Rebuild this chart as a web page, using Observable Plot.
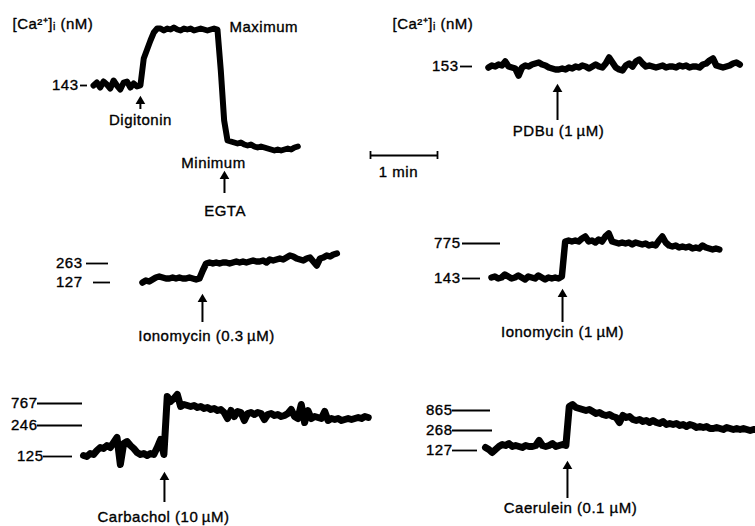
<!DOCTYPE html>
<html><head><meta charset="utf-8">
<script src="https://cdn.jsdelivr.net/npm/d3@7"></script>
<script src="https://cdn.jsdelivr.net/npm/@observablehq/plot@0.6"></script>
<style>
html,body{margin:0;padding:0;background:#fff;}
#fig{position:relative;width:755px;height:526px;overflow:hidden;background:#fff;}
#fig svg{position:absolute;overflow:visible;}
</style></head><body><div id="fig"></div>
<script>
// ---------------- DATA ----------------
// sampling interval of the digitised records (s)
const dt = 3;
// fluorescence signal, arbitrary units (0 = resting level of each record)
const sigDigitonin = [0,3,-2,4,1,-3,5,0,-4,3,4,-2,2,-1,0,
  27,36,45,53,57,
  57,55,57,56,58,56,55,57,56,57,55,56,57,56,55,56,57,56,
  15,-35,-55,
  -56,-57,-58,-57,-59,-60,-59,-61,-62,-61,-62,-63,-64,-65,-64,-65,-64,-63,-64,-62,-61];
const sigPDBu = [-1,1,0,2,1,5,0,-1,-2,-9,-1,1,0,2,3,4,2,1,-1,-2,-3,-3,-2,-3,-1,-2,0,-1,1,0,
  -2,0,2,0,-1,3,9,4,-1,-3,-4,1,3,0,5,7,3,0,1,0,-1,0,1,-1,0,0,-1,1,0,1,
  -1,0,0,-1,2,3,6,8,1,0,-1,0,1,3,4,2];
const sigIono03 = [0,2,1,3,5,6,5,4,4,5,4,5,4,4,5,4,3,4,
  12,19,20,19,20,19,20,20,19,20,21,20,21,20,21,22,21,21,22,20,23,22,23,24,23,25,27,26,24,23,22,24,25,21,17,24,25,27,26,28,29];
const sigIono1 = [1,2,0,1,4,2,0,1,3,1,-1,2,1,0,3,1,-1,1,0,1,0,2,
  37,38,37,38,37,40,42,37,38,36,39,37,42,45,37,36,35,36,35,36,34,36,35,34,35,33,34,33,38,42,36,33,32,33,31,32,31,32,30,31,30,33,31,30,29,30,29];
const sigCarbachol = [1,0,3,2,6,9,8,11,9,14,19,-8,13,15,11,8,4,2,3,1,3,2,9,17,2,
  60,55,58,62,50,52,51,50,51,49,50,48,49,47,48,46,47,44,38,46,40,45,44,36,43,44,42,44,43,37,
  42,43,41,42,40,41,43,47,40,38,52,34,46,38,40,39,38,45,36,38,37,38,36,37,38,37,38,39,38,40,39];
const sigCaerulein = [3,1,-2,1,4,6,5,7,4,5,4,3,5,4,4,5,10,5,4,5,7,4,5,6,5,
  44,46,43,42,41,40,41,39,37,38,36,35,36,34,33,28,35,33,34,31,30,31,29,30,28,30,28,27,29,26,
  27,26,27,25,26,24,26,25,23,24,23,24,22,22,23,22,21,23,22,21,22,21,22,21,20,21,21];

// calibration ticks: signal level -> [Ca2+]i label (nM)
const tickSigA = [0],         tickLabA = ["143"];
const tickSigB = [0],         tickLabB = ["153"];
const tickSigC = [0, 19],     tickLabC = ["127", "263"];
const tickSigD = [0, 35],     tickLabD = ["143", "775"];
const tickSigE = [0, 31, 53], tickLabE = ["125", "246", "767"];
const tickSigF = [0, 20, 40], tickLabF = ["127", "268", "865"];

// times of additions (s from start of record)
const tDigitonin = 42, tEGTA = 117.3, tPDBu = 61.8, tIono03 = 53.7, tIono1 = 63.6, tCarbachol = 72.5, tCaerulein = 73.4;
const yTitle = "[Ca\u00B2\u207A]\u1D62 (nM)";

// ---------------- LAYOUT ----------------
const pps = 67 / 60; // px per second: the 1-min bar
const font = "'Liberation Sans', Arial, Helvetica, sans-serif";
const fig = document.getElementById("fig");
const series = vals => vals.map((s, i) => ({t: i * dt, s}));
const txt = {fill: "black", stroke: "black", strokeWidth: 0.35, fontSize: 15};

function panel({left, top, width, height, x0, y0, marks}) {
  const dur = (left + width - x0) / pps;
  const svg = Plot.plot({
    width, height, marginLeft: x0 - left, marginRight: 0, marginTop: 0, marginBottom: 0,
    x: {domain: [0, dur], axis: null},
    y: {domain: [y0 - (top + height), y0 - top], axis: null},
    style: {fontFamily: font, fontSize: "15px", background: "transparent", overflow: "visible", color: "black", letterSpacing: "0.5px"},
    marks
  });
  svg.style.left = left + "px"; svg.style.top = top + "px";
  fig.append(svg);
}
const trace = (vals, w) => Plot.line(series(vals), {x: "t", y: "s", stroke: "black", strokeWidth: w, strokeLinejoin: "round", strokeLinecap: "round"});
function ticks(sigs, labs, geom) {
  const rows = sigs.map((s, i) => ({s, label: labs[i], ...geom[i]}));
  return [
    Plot.ruleY(rows, {y: "s", x1: d => -(d.gap + d.len) / pps, x2: d => -d.gap / pps, stroke: "black", strokeWidth: 1.8}),
    Plot.text(rows, {y: "s", x: d => -(d.gap + d.len + d.lg) / pps, text: "label", textAnchor: "end", ...txt})
  ];
}
function arrow(t, tip, tail) {
  return [
    Plot.ruleX([t], {x: d => d, y1: tail, y2: tip - 5, stroke: "black", strokeWidth: 2}),
    Plot.dot([t], {x: d => d, y: tip - 3.8, symbol: "triangle", r: 3.6, fill: "black", stroke: "none"})
  ];
}
const label = (text, t, s, anchor = "middle") => Plot.text([text], {x: t, y: s, text: d => d, textAnchor: anchor, ...txt});
const title = (dx) => Plot.text([yTitle], {frameAnchor: "top-left", dx, dy: 18, text: d => d, textAnchor: "start", ...txt});

// A: digitonin / EGTA calibration
panel({left: 0, top: 0, width: 370, height: 225, x0: 93, y0: 85, marks: [
  trace(sigDigitonin, 6),
  ...ticks(tickSigA, tickLabA, [{gap: 6, len: 7, lg: 2}]),
  ...arrow(tDigitonin, -12, -24),
  ...arrow(tEGTA, -87, -108),
  label("Digitonin", tDigitonin, -35),
  label("Maximum", 121.8, 58, "start"),
  label("Minimum", 107.5, -78),
  label("EGTA", 117.8, -126),
  title(-81)
]});
// B: PDBu
panel({left: 370, top: 0, width: 385, height: 140, x0: 488, y0: 66, marks: [
  trace(sigPDBu, 6.5),
  ...ticks(tickSigB, tickLabB, [{gap: 16, len: 12, lg: 2}]),
  ...arrow(tPDBu, -19, -54),
  label("PDBu (1\u2009\u00B5M)", 62.7, -65),
  title(-96)
]});
// scale bar
panel({left: 360, top: 140, width: 90, height: 45, x0: 370, y0: 155, marks: [
  Plot.ruleY([0], {x1: 0, x2: 60, stroke: "black", strokeWidth: 1.8}),
  Plot.ruleX([0, 60], {x: d => d, y1: -4, y2: 4, stroke: "black", strokeWidth: 1.8}),
  label("1 min", 25, -17)
]});
// C: ionomycin 0.3 uM
panel({left: 0, top: 225, width: 370, height: 130, x0: 142, y0: 282, marks: [
  trace(sigIono03, 6.5),
  ...ticks(tickSigC, tickLabC, [{gap: 32, len: 17, lg: 11}, {gap: 34, len: 22, lg: 4}]),
  ...arrow(tIono03, -13, -40),
  label("Ionomycin (0.3\u2009\u00B5M)", 57.3, -54)
]});
// D: ionomycin 1 uM
panel({left: 370, top: 225, width: 385, height: 130, x0: 491, y0: 278, marks: [
  trace(sigIono1, 6.5),
  ...ticks(tickSigD, tickLabD, [{gap: 11, len: 18, lg: 2}, {gap: -9, len: 38, lg: 2}]),
  ...arrow(tIono1, -12, -44),
  label("Ionomycin (1\u2009\u00B5M)", 63.6, -54)
]});
// E: carbachol
panel({left: 0, top: 355, width: 370, height: 171, x0: 83, y0: 456, marks: [
  trace(sigCarbachol, 7),
  ...ticks(tickSigE, tickLabE, [{gap: 11, len: 29, lg: 0}, {gap: 1, len: 45, lg: 0}, {gap: 1, len: 45, lg: 0}]),
  ...arrow(tCarbachol, -17, -46),
  label("Carbachol (10\u2009\u00B5M)", 71.6, -61)
]});
// F: caerulein
panel({left: 370, top: 355, width: 385, height: 171, x0: 485, y0: 450, marks: [
  trace(sigCaerulein, 7),
  ...ticks(tickSigF, tickLabF, [{gap: 8, len: 25, lg: 0}, {gap: -7, len: 40, lg: 0}, {gap: -5, len: 38, lg: 0}]),
  ...arrow(tCaerulein, -12, -48),
  label("Caerulein (0.1 \u00B5M)", 76.1, -58)
]});
</script></body></html>
